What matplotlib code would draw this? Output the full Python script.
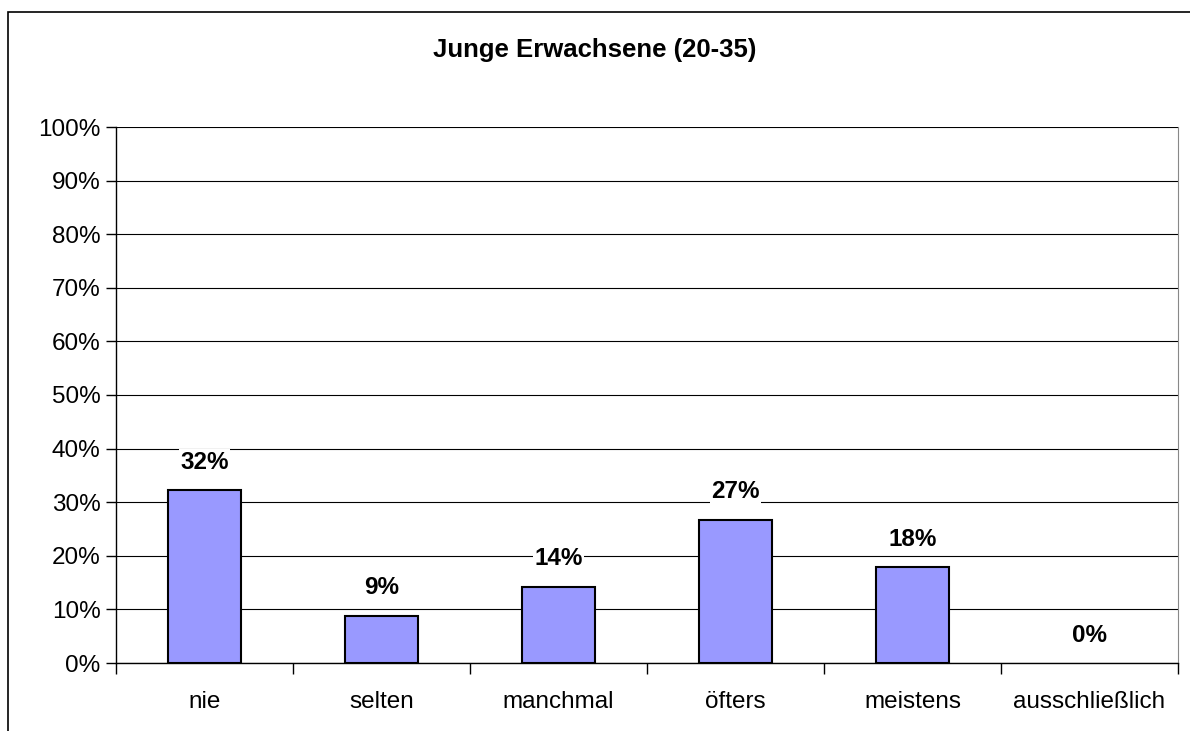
import matplotlib.pyplot as plt
from matplotlib.patches import Rectangle
import numpy as np

categories = ["nie", "selten", "manchmal", "öfters", "meistens", "ausschließlich"]
values = [32.2, 8.8, 14.2, 26.7, 17.9, 0.0]
labels = ["32%", "9%", "14%", "27%", "18%", "0%"]
yticks = list(range(0, 101, 10))

plt.rcParams['font.family'] = ['Liberation Sans', 'DejaVu Sans']

fig = plt.figure(figsize=(11.9, 7.31), dpi=100)
ax = fig.add_axes([116 / 1190, 1 - 663 / 731, (1178 - 116) / 1190, (663 - 127) / 731])

# Rahmen um das ganze Diagramm
fig.patches.append(Rectangle((8 / 1190, -0.1), 1.2, 1 - 12 / 731 + 0.1,
                             transform=fig.transFigure, fill=False,
                             edgecolor='black', linewidth=1.2))

x = np.arange(len(categories))
edges = ['black' if v > 0 else 'none' for v in values]
ax.bar(x, values, width=0.41, color='#9999FF', edgecolor=edges, linewidth=1.5, zorder=3)

for xi, v, lab in zip(x, values, labels):
    ax.annotate(lab, (xi, v), xytext=(0, 28), textcoords='offset pixels',
                ha='center', va='center', fontsize=17.5, fontweight='bold', zorder=4,
                bbox=dict(facecolor='white', edgecolor='none', pad=1))

ax.set_xlim(-0.5, len(categories) - 0.5)
ax.set_ylim(0, 100)
ax.set_yticks(yticks)
ax.set_yticklabels([f"{t}%" for t in yticks], fontsize=17.5)
ax.yaxis.grid(True, color='black', linewidth=0.8, zorder=0)
ax.set_axisbelow(True)

ax.set_xticks(x)
ax.set_xticklabels(categories, fontsize=17.5)
ax.tick_params(axis='x', which='major', length=0, pad=20)
ax.set_xticks(np.arange(-0.5, len(categories), 1), minor=True)
ax.tick_params(axis='x', which='minor', length=8, width=1, direction='out')
ax.tick_params(axis='y', length=7, width=1, direction='out', pad=4)

ax.spines['top'].set_visible(False)
ax.spines['right'].set_color('#888888')
ax.spines['left'].set_linewidth(1)
ax.spines['bottom'].set_linewidth(1)

fig.text(0.5, 1 - 50 / 731, "Junge Erwachsene (20-35)", ha='center', va='center',
         fontsize=18.5, fontweight='bold')

fig.savefig("out.png", dpi=100)
